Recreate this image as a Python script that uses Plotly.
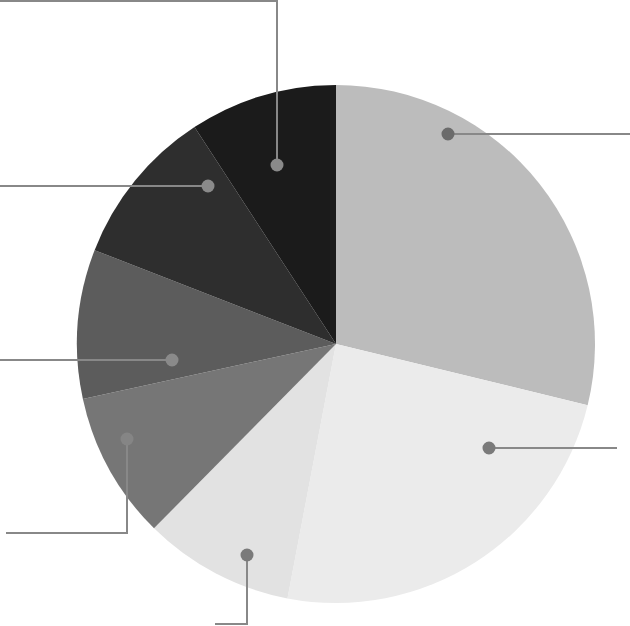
import plotly.graph_objects as go

W, H = 630, 626

# slice data, clockwise from 12 o'clock
categories = ["A", "B", "C", "D", "E", "F", "G"]
values = [28.8, 24.2, 9.4, 9.2, 9.3, 9.9, 9.2]
colors = ["#bcbcbc", "#ebebeb", "#e2e2e2", "#767676", "#5c5c5c", "#2e2e2e", "#1b1b1b"]

# callout leader lines (pixel paths: dot first) and dot colours
callouts = [
    ([(448, 134), (630, 134)], "#6b6b6b"),
    ([(489, 448), (617, 448)], "#7a7a7a"),
    ([(247, 555), (247, 624), (215, 624)], "#7a7a7a"),
    ([(127, 439), (127, 533), (6, 533)], "#858585"),
    ([(172, 360), (0, 360)], "#8a8a8a"),
    ([(208, 186), (0, 186)], "#8a8a8a"),
    ([(277, 165), (277, 1), (0, 1)], "#8a8a8a"),
]


def px(x, y):
    return x / W, 1 - y / H


fig = go.Figure(go.Pie(
    labels=categories, values=values, sort=False, direction="clockwise",
    rotation=0, textinfo="none", hoverinfo="label+percent",
    marker=dict(colors=colors, line=dict(width=0)),
    domain=dict(x=[77 / W, 595 / W], y=[23 / H, 541 / H]),
))

shapes = []
for path, dot_color in callouts:
    pts = [px(x, y) for x, y in path]
    d = "M " + " L ".join(f"{x},{y}" for x, y in pts)
    shapes.append(dict(type="path", path=d, xref="paper", yref="paper",
                       line=dict(color="#888888", width=2), layer="above"))
    cx, cy = pts[0]
    shapes.append(dict(type="circle", xref="paper", yref="paper",
                       xsizemode="pixel", ysizemode="pixel",
                       xanchor=cx, yanchor=cy, x0=-6.5, x1=6.5, y0=-6.5, y1=6.5,
                       fillcolor=dot_color, line=dict(width=0), layer="above"))

fig.update_layout(
    width=W, height=H, margin=dict(l=0, r=0, t=0, b=0),
    showlegend=False, paper_bgcolor="white", shapes=shapes,
)

fig.write_html("out.html", config={"displayModeBar": False},
               post_script="document.body.style.margin='0';")
